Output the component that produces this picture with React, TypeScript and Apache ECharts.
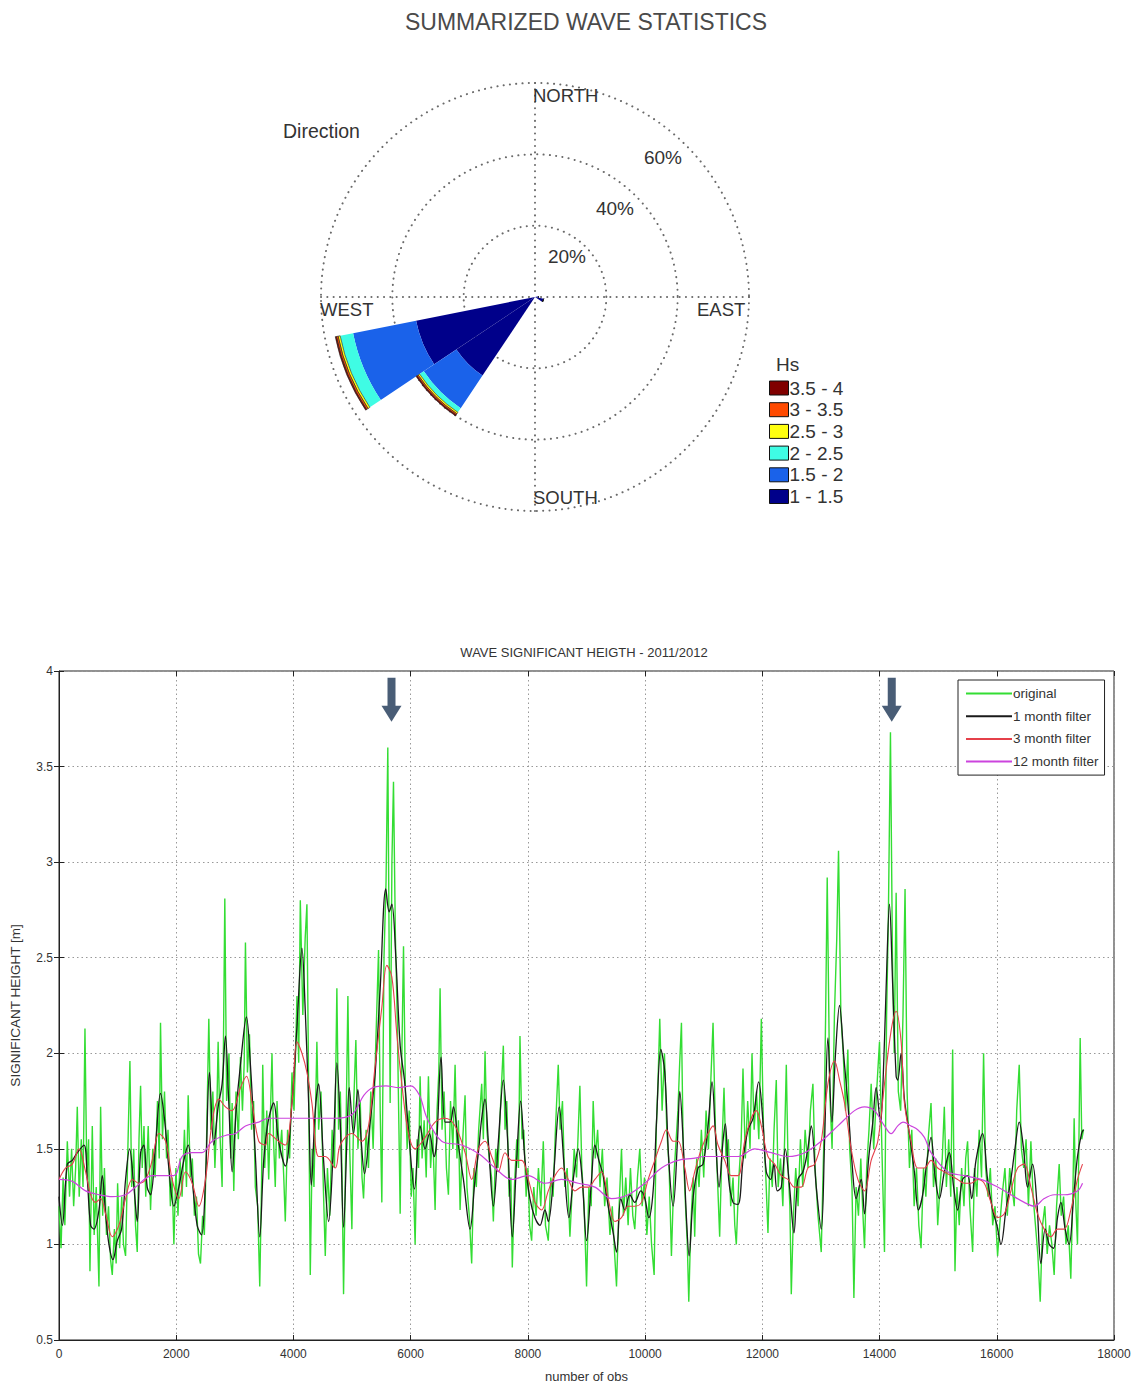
import React, { useEffect, useRef } from "react";
import * as echarts from "echarts";

// ---------- Wind/wave rose data (percent of observations) ----------
const DIRECTIONS = ["N", "NNE", "NE", "ENE", "E", "ESE", "SE", "SSE", "S", "SSW", "SW", "WSW", "W", "WNW", "NW", "NNW"];
const HS_BINS = ["1 - 1.5", "1.5 - 2", "2 - 2.5", "2.5 - 3", "3 - 3.5", "3.5 - 4"];
const HS_1_15 = [0, 0, 0, 0, 1, 2.5, 0, 0, 0, 0, 26.5, 34, 0, 0, 0, 0];
const HS_15_2 = [0, 0, 0, 0, 0, 0, 0, 0, 0, 0, 11, 18, 0, 0, 0, 0];
const HS_2_25 = [0, 0, 0, 0, 0, 0, 0, 0, 0, 0, 1.4, 3.7, 0, 0, 0, 0];
const HS_25_3 = [0, 0, 0, 0, 0, 0, 0, 0, 0, 0, 0.5, 0.6, 0, 0, 0, 0];
const HS_3_35 = [0, 0, 0, 0, 0, 0, 0, 0, 0, 0, 0.4, 0.5, 0, 0, 0, 0];
const HS_35_4 = [0, 0, 0, 0, 0, 0, 0, 0, 0, 0, 0.3, 0.3, 0, 0, 0, 0];
const HS_VALUES = [HS_1_15, HS_15_2, HS_2_25, HS_25_3, HS_3_35, HS_35_4];
const HS_COLORS = ["#00008a", "#1a62ea", "#3ffce4", "#ffff10", "#ff4a00", "#800000"];
const RADIUS_TICKS = ["20%", "40%", "60%"];

// ---------- Time series data: [observation number, Hs (m)] ----------
const ORIGINAL = [
  [0, 1.2], [35, 0.98], [70, 1.35], [100, 1.1], [142, 1.54], [180, 1.25], [215, 1.5], [250, 1.2], [284, 1.4], [312, 1.72], [345, 1.25], [380, 1.55], [410, 1.3], [443, 2.13], [475, 1.35], [505, 1.55], [528, 0.86], [568, 1.62], [600, 1.05], [635, 1.3], [682, 0.78], [710, 1.72], [745, 1.15], [775, 1.4], [810, 1.05], [845, 1.2], [880, 0.92], [909, 0.84], [945, 1.08], [975, 0.9], [1000, 1.32], [1035, 0.98], [1070, 1.25], [1100, 1.0], [1136, 0.94], [1175, 1.5], [1210, 1.96], [1240, 1.3], [1275, 1.5], [1305, 1.1], [1335, 0.96], [1365, 1.55], [1392, 1.83], [1420, 1.4], [1450, 1.62], [1480, 1.25], [1522, 1.62], [1562, 1.18], [1600, 1.5], [1640, 1.35], [1680, 1.75], [1710, 1.45], [1732, 2.16], [1765, 1.55], [1800, 1.8], [1835, 1.45], [1860, 1.6], [1900, 1.2], [1930, 1.35], [1960, 1.0], [1995, 1.4], [2030, 1.15], [2065, 1.45], [2100, 1.25], [2140, 1.6], [2175, 1.3], [2204, 1.78], [2240, 1.35], [2275, 1.45], [2310, 1.15], [2345, 1.25], [2380, 0.95], [2414, 0.9], [2450, 1.15], [2480, 1.05], [2515, 1.5], [2556, 2.18], [2590, 1.6], [2625, 1.8], [2660, 1.4], [2690, 1.65], [2715, 2.06], [2750, 1.55], [2783, 1.3], [2829, 2.81], [2860, 1.75], [2900, 2.0], [2930, 1.45], [2954, 1.74], [2982, 1.28], [3020, 1.8], [3060, 1.55], [3096, 1.98], [3130, 1.7], [3160, 1.95], [3181, 2.58], [3215, 1.9], [3250, 2.1], [3285, 1.6], [3320, 1.75], [3350, 1.3], [3390, 1.2], [3425, 0.78], [3455, 1.3], [3476, 1.94], [3510, 1.4], [3545, 1.7], [3578, 1.34],
  [3634, 2.0], [3660, 1.55], [3690, 1.3], [3720, 1.75], [3760, 1.45], [3800, 1.6], [3835, 1.35], [3861, 1.12], [3900, 1.6], [3935, 1.45], [3975, 1.9], [4010, 1.7], [4060, 2.3], [4090, 1.95], [4117, 2.8], [4160, 2.2], [4200, 2.6], [4230, 2.78], [4260, 1.8], [4287, 0.84], [4320, 1.5], [4350, 1.3], [4400, 2.06], [4430, 1.6], [4470, 1.8], [4510, 1.3], [4543, 0.94], [4580, 1.4], [4620, 1.15], [4660, 1.6], [4700, 1.4], [4741, 2.34], [4770, 1.6], [4800, 1.8], [4830, 1.35], [4855, 0.74], [4890, 1.45], [4929, 2.3], [4960, 1.5], [4997, 1.08], [5030, 1.75], [5065, 2.07], [5100, 1.5], [5140, 1.75], [5170, 1.35], [5196, 1.24], [5240, 1.6], [5280, 1.4], [5320, 1.8], [5360, 1.5], [5400, 2.0], [5452, 2.54], [5480, 1.7], [5508, 1.22], [5545, 2.5], [5580, 2.9], [5610, 3.6], [5650, 1.74], [5680, 3.0], [5707, 3.42], [5740, 2.6], [5770, 2.2], [5800, 1.6], [5821, 1.16], [5850, 2.0], [5878, 2.56], [5910, 1.8], [5940, 1.5], [5975, 1.7], [6010, 1.25], [6040, 1.4], [6076, 1.0], [6110, 1.55], [6135, 1.4], [6161, 1.88], [6195, 1.45], [6230, 1.65], [6265, 1.35], [6303, 1.88], [6340, 1.4], [6375, 1.6], [6417, 1.18], [6450, 1.7], [6480, 1.9], [6502, 2.34], [6535, 1.6], [6570, 1.8], [6610, 1.4], [6644, 1.26], [6680, 1.75], [6720, 1.5], [6758, 1.94], [6790, 1.45], [6815, 1.65], [6843, 1.18], [6880, 1.5], [6928, 1.78], [6960, 1.3], [7000, 1.15], [7041, 0.9], [7080, 1.4], [7120, 1.3], [7160, 1.6], [7212, 1.84],
  [7240, 1.55], [7269, 2.01], [7300, 1.6], [7340, 1.45], [7380, 1.35], [7411, 1.12], [7450, 1.5], [7490, 1.4], [7530, 1.7], [7581, 2.04], [7610, 1.6], [7640, 1.75], [7680, 1.25], [7710, 1.35], [7734, 0.88], [7770, 1.3], [7810, 1.55], [7840, 1.4], [7865, 2.09], [7900, 1.55], [7930, 1.6], [7970, 1.25], [8000, 1.4], [8030, 1.1], [8064, 1.02], [8100, 1.3], [8140, 1.15], [8180, 1.4], [8220, 1.2], [8263, 1.54], [8300, 1.1], [8348, 1.02], [8390, 1.35], [8430, 1.25], [8470, 1.6], [8518, 1.94], [8550, 1.6], [8590, 1.75], [8630, 1.3], [8670, 1.4], [8717, 1.04], [8750, 1.25], [8790, 1.5], [8830, 1.35], [8887, 1.83], [8920, 1.4], [8960, 1.2], [9001, 0.78], [9040, 1.3], [9080, 1.2], [9114, 1.75], [9150, 1.45], [9190, 1.6], [9230, 1.3], [9270, 1.5], [9310, 1.2], [9350, 1.35], [9400, 1.05], [9440, 1.2], [9480, 0.95], [9512, 0.78], [9550, 1.15], [9597, 1.5], [9630, 1.15], [9670, 1.35], [9710, 1.1], [9750, 1.4], [9790, 1.15], [9824, 1.08], [9870, 1.35], [9909, 1.5], [9950, 1.2], [9990, 1.35], [10030, 1.05], [10070, 1.25], [10110, 1.0], [10154, 0.84], [10190, 1.6], [10220, 1.85], [10250, 2.18], [10290, 1.7], [10330, 2.0], [10370, 1.6], [10410, 1.4], [10449, 0.94], [10490, 1.35], [10530, 1.55], [10560, 1.7], [10590, 1.95], [10620, 2.16], [10650, 1.5], [10690, 1.2], [10720, 1.0], [10745, 0.7], [10780, 1.1],
  [10820, 1.35], [10846, 1.04], [10880, 1.45], [10920, 1.3], [10960, 1.6], [11000, 1.35], [11040, 1.7], [11080, 1.5], [11120, 1.85], [11159, 2.16], [11200, 1.6], [11240, 1.3], [11272, 1.04], [11310, 1.5], [11346, 1.82], [11380, 1.45], [11420, 1.55], [11460, 1.2], [11500, 1.35], [11530, 1.1], [11556, 1.0], [11600, 1.35], [11640, 1.55], [11670, 1.92], [11710, 1.45], [11750, 1.75], [11790, 1.5], [11824, 2.0], [11860, 1.6], [11900, 1.8], [11940, 1.55], [11983, 2.18], [12020, 1.6], [12060, 1.35], [12096, 1.06], [12130, 1.45], [12170, 1.3], [12200, 1.6], [12238, 1.86], [12270, 1.3], [12310, 1.45], [12350, 1.2], [12380, 1.55], [12409, 1.94], [12440, 1.4], [12470, 1.2], [12494, 0.74], [12530, 1.15], [12570, 1.4], [12610, 1.2], [12650, 1.55], [12690, 1.3], [12730, 1.6], [12780, 1.4], [12820, 1.7], [12863, 1.84], [12900, 1.4], [12950, 1.15], [13005, 0.96], [13050, 1.55], [13080, 2.2], [13107, 2.92], [13150, 1.8], [13190, 1.5], [13230, 2.2], [13270, 2.6], [13300, 3.06], [13340, 2.2], [13380, 2.0], [13420, 1.7], [13459, 2.02], [13490, 1.5], [13530, 1.3], [13562, 0.72], [13600, 1.3], [13640, 1.15], [13680, 1.45], [13710, 1.2], [13743, 0.98], [13780, 1.4], [13820, 1.6], [13857, 1.84], [13900, 1.5], [13950, 1.8], [13999, 2.06], [14040, 1.5], [14084, 0.96], [14120, 2.2], [14150, 2.7], [14186, 3.68], [14220, 2.5], [14250, 2.0], [14283, 2.84], [14320, 1.8], [14360, 1.7], [14400, 2.2],
  [14435, 2.86], [14470, 1.8], [14510, 1.4], [14550, 1.6], [14590, 1.2], [14630, 1.4], [14670, 1.1], [14708, 0.98], [14750, 1.4], [14790, 1.25], [14830, 1.55], [14878, 1.74], [14920, 1.3], [14960, 1.45], [14992, 1.1], [15030, 1.3], [15070, 1.45], [15105, 1.72], [15140, 1.3], [15180, 1.55], [15215, 1.25], [15247, 2.02], [15287, 0.86], [15320, 1.3], [15360, 1.1], [15400, 1.4], [15440, 1.2], [15470, 1.45], [15502, 1.54], [15540, 1.2], [15588, 0.96], [15620, 1.4], [15660, 1.25], [15700, 1.6], [15740, 1.35], [15775, 2.0], [15810, 1.4], [15850, 1.25], [15890, 1.4], [15930, 1.1], [15970, 1.2], [16014, 0.94], [16050, 1.1], [16090, 1.25], [16139, 1.4], [16180, 1.15], [16220, 1.4], [16260, 1.3], [16298, 1.2], [16340, 1.7], [16383, 1.94], [16420, 1.5], [16460, 1.4], [16500, 1.55], [16540, 1.2], [16582, 1.54], [16620, 1.25], [16660, 1.1], [16700, 0.95], [16741, 0.7], [16780, 1.1], [16820, 1.2], [16860, 0.95], [16900, 1.1], [16940, 1.0], [16979, 0.84], [17020, 1.2], [17065, 1.42], [17100, 1.15], [17140, 1.25], [17180, 1.0], [17220, 1.1], [17263, 0.82], [17300, 1.3], [17320, 1.66], [17350, 1.2], [17377, 1.0], [17400, 1.5], [17423, 2.08], [17450, 1.55], [17480, 1.6],
];

const FILTER_1M = [
  [0, 1.25], [57, 1.1], [142, 1.42], [227, 1.44], [312, 1.48], [426, 1.52], [483, 1.34], [540, 1.1], [596, 1.08], [682, 1.18], [738, 1.36], [795, 1.16], [852, 1.0], [920, 0.92], [994, 1.02], [1068, 1.08], [1136, 1.34], [1204, 1.5], [1278, 1.3], [1335, 1.12], [1392, 1.48], [1448, 1.52], [1505, 1.3], [1562, 1.26], [1647, 1.52], [1732, 1.79], [1806, 1.64], [1874, 1.4], [1960, 1.2], [2045, 1.3], [2130, 1.44], [2204, 1.52], [2272, 1.34], [2357, 1.1], [2431, 1.05], [2499, 1.34], [2567, 1.9], [2641, 1.52], [2715, 1.72], [2783, 1.84], [2840, 2.09], [2897, 1.74], [2954, 1.38], [3022, 1.7], [3096, 1.94], [3198, 2.19], [3266, 1.94], [3351, 1.46], [3425, 1.04], [3493, 1.44], [3567, 1.64],
  [3662, 1.74], [3747, 1.54], [3861, 1.41], [3975, 1.74], [4060, 2.14], [4145, 2.55], [4202, 2.22], [4259, 1.74], [4304, 1.31], [4372, 1.7], [4429, 1.84], [4514, 1.44], [4600, 1.12], [4685, 1.54], [4741, 1.95], [4798, 1.64], [4855, 1.09], [4912, 1.54], [4952, 1.82], [5025, 1.58], [5099, 1.81], [5156, 1.54], [5213, 1.37], [5309, 1.64], [5395, 1.9], [5480, 2.34], [5576, 2.86], [5633, 2.74], [5679, 2.78], [5747, 2.5], [5821, 2.04], [5894, 1.86], [5963, 1.6], [6065, 1.29], [6161, 1.62], [6247, 1.5], [6320, 1.58], [6400, 1.46], [6445, 1.54], [6519, 1.98], [6587, 1.64], [6672, 1.64], [6729, 1.72], [6814, 1.52], [6900, 1.34], [7013, 1.08], [7098, 1.34],
  [7155, 1.48], [7212, 1.66], [7269, 1.76], [7325, 1.54], [7411, 1.2], [7496, 1.54], [7581, 1.86], [7655, 1.54], [7734, 1.04], [7808, 1.44], [7876, 1.75], [7950, 1.44], [8035, 1.24], [8121, 1.14], [8206, 1.1], [8291, 1.18], [8348, 1.12], [8433, 1.34], [8535, 1.72], [8620, 1.4], [8700, 1.14], [8774, 1.34], [8859, 1.5], [8927, 1.34], [9001, 1.02], [9086, 1.34], [9143, 1.52], [9211, 1.44], [9285, 1.36], [9370, 1.2], [9455, 1.06], [9512, 0.96], [9586, 1.24], [9654, 1.18], [9739, 1.26], [9824, 1.22], [9926, 1.28], [9995, 1.24], [10063, 1.14], [10137, 1.28], [10194, 1.64], [10268, 2.02], [10336, 1.9], [10404, 1.44], [10478, 1.2], [10552, 1.54], [10592, 1.8], [10649, 1.54], [10705, 1.14], [10751, 0.94],
  [10818, 1.24], [10903, 1.4], [10988, 1.42], [11074, 1.62], [11142, 1.85], [11199, 1.58], [11261, 1.3], [11329, 1.54], [11369, 1.63], [11426, 1.34], [11500, 1.22], [11585, 1.21], [11670, 1.44], [11755, 1.6], [11841, 1.66], [11937, 1.85], [12011, 1.64], [12068, 1.38], [12142, 1.34], [12198, 1.42], [12255, 1.28], [12323, 1.3], [12391, 1.5], [12465, 1.3], [12539, 1.06], [12607, 1.34], [12692, 1.38], [12766, 1.48], [12835, 1.62], [12920, 1.3], [13005, 1.08], [13062, 1.54], [13119, 2.08], [13187, 1.64], [13249, 2.0], [13317, 2.25], [13391, 1.98], [13459, 1.74], [13527, 1.44], [13601, 1.24], [13686, 1.34], [13743, 1.16], [13811, 1.44], [13885, 1.64], [13942, 1.82], [14016, 1.64], [14056, 1.82], [14112, 2.34], [14169, 2.78], [14226, 2.34], [14283, 1.88],
  [14310, 1.86], [14367, 2.0], [14424, 1.76], [14509, 1.58], [14594, 1.38], [14663, 1.18], [14736, 1.26], [14810, 1.44], [14878, 1.56], [14946, 1.36], [15020, 1.24], [15105, 1.38], [15190, 1.48], [15264, 1.3], [15332, 1.18], [15417, 1.34], [15502, 1.36], [15571, 1.24], [15645, 1.44], [15758, 1.58], [15843, 1.34], [15929, 1.18], [16003, 1.1], [16071, 1.0], [16156, 1.18], [16241, 1.34], [16310, 1.5], [16383, 1.64], [16457, 1.5], [16525, 1.3], [16610, 1.42], [16684, 1.22], [16753, 0.9], [16826, 1.08], [16895, 1.0], [16968, 0.98], [17036, 1.14], [17093, 1.22], [17167, 1.08], [17235, 1.0], [17309, 1.24], [17377, 1.46], [17446, 1.58], [17480, 1.6],
];

const FILTER_3M = [
  [0, 1.34], [114, 1.4], [227, 1.42], [341, 1.5], [454, 1.38], [540, 1.26], [625, 1.22], [710, 1.24], [795, 1.16], [909, 1.04], [1022, 1.1], [1136, 1.24], [1250, 1.34], [1363, 1.32], [1477, 1.34], [1590, 1.44], [1704, 1.58], [1818, 1.54], [1931, 1.34], [2045, 1.24], [2158, 1.38], [2272, 1.32], [2386, 1.2], [2499, 1.34], [2613, 1.64], [2726, 1.76], [2840, 1.72], [2954, 1.7], [3096, 1.82], [3198, 1.88], [3294, 1.74], [3408, 1.54], [3522, 1.52],
  [3577, 1.58], [3747, 1.54], [3861, 1.52], [3975, 1.74], [4060, 2.06], [4145, 2.0], [4230, 1.9], [4315, 1.74], [4429, 1.46], [4543, 1.46], [4713, 1.4], [4798, 1.52], [4997, 1.58], [5167, 1.54], [5281, 1.62], [5395, 1.94], [5508, 2.24], [5593, 2.46], [5679, 2.4], [5764, 2.1], [5849, 1.84], [5963, 1.58], [6076, 1.5], [6247, 1.56], [6417, 1.64], [6587, 1.66], [6758, 1.62], [6928, 1.48], [7041, 1.34], [7155, 1.5],
  [7269, 1.54], [7382, 1.46], [7496, 1.38], [7610, 1.48], [7723, 1.44], [7893, 1.44], [8007, 1.34], [8121, 1.22], [8234, 1.18], [8348, 1.28], [8462, 1.36], [8575, 1.4], [8689, 1.34], [8802, 1.28], [8916, 1.3], [9030, 1.3], [9143, 1.34], [9257, 1.38], [9370, 1.24], [9484, 1.12], [9597, 1.14], [9711, 1.2], [9824, 1.2], [9938, 1.22], [10052, 1.34], [10165, 1.44], [10279, 1.54], [10364, 1.6], [10478, 1.54], [10563, 1.54], [10677, 1.4], [10760, 1.28],
  [10846, 1.38], [10960, 1.5], [11074, 1.58], [11159, 1.62], [11244, 1.52], [11358, 1.44], [11471, 1.36], [11585, 1.36], [11699, 1.54], [11812, 1.66], [11897, 1.7], [11983, 1.62], [12096, 1.46], [12210, 1.42], [12323, 1.36], [12437, 1.34], [12550, 1.3], [12664, 1.3], [12778, 1.4], [12891, 1.42], [13005, 1.54], [13119, 1.84], [13232, 1.96], [13317, 1.86], [13402, 1.74], [13516, 1.5], [13630, 1.34], [13743, 1.28], [13857, 1.44], [13970, 1.54], [14084, 1.84], [14198, 2.12], [14283, 2.22], [14368, 2.06],
  [14424, 1.74], [14537, 1.54], [14651, 1.4], [14765, 1.4], [14878, 1.44], [14992, 1.4], [15105, 1.38], [15219, 1.36], [15332, 1.34], [15446, 1.32], [15559, 1.32], [15673, 1.34], [15786, 1.32], [15900, 1.22], [16014, 1.14], [16128, 1.16], [16241, 1.28], [16355, 1.4], [16469, 1.42], [16582, 1.3], [16696, 1.16], [16809, 1.08], [16923, 1.04], [17036, 1.08], [17150, 1.08], [17263, 1.18], [17377, 1.34], [17463, 1.42],
];

const FILTER_12M = [
  [0, 1.34], [227, 1.33], [454, 1.28], [682, 1.26], [909, 1.25], [1136, 1.26], [1306, 1.3], [1590, 1.36], [1960, 1.36], [2100, 1.46], [2272, 1.48], [2440, 1.48], [2613, 1.54], [2840, 1.57], [3010, 1.58], [3181, 1.62], [3408, 1.64], [3577, 1.66], [3800, 1.66], [4100, 1.66], [4400, 1.66], [4700, 1.66], [5000, 1.68], [5200, 1.78], [5350, 1.82], [5577, 1.83], [5800, 1.82], [6000, 1.83], [6150, 1.78], [6280, 1.66], [6530, 1.54], [6870, 1.52], [7180, 1.47], [7440, 1.4], [7723, 1.34], [8007, 1.36], [8291, 1.32], [8575, 1.34], [8859, 1.32], [9143, 1.3], [9427, 1.24], [9711, 1.26], [9995, 1.32], [10279, 1.4], [10563, 1.44], [10819, 1.45], [11017, 1.46], [11300, 1.46], [11585, 1.46], [11870, 1.5], [12153, 1.48], [12437, 1.46], [12721, 1.48], [13005, 1.54], [13289, 1.62], [13573, 1.7], [13743, 1.72], [13913, 1.7], [14084, 1.62], [14198, 1.58], [14311, 1.62], [14400, 1.64], [14537, 1.62], [14651, 1.6], [14765, 1.56], [14878, 1.48], [15162, 1.38], [15446, 1.36], [15730, 1.34], [16014, 1.3], [16241, 1.26], [16469, 1.22], [16639, 1.2], [16809, 1.24], [16980, 1.26], [17150, 1.26], [17377, 1.28], [17463, 1.32],
];

const SERIES_NAMES = ["original", "1 month filter", "3 month filter", "12 month filter"];
const ARROW_POINTS = [[5673, 3.85], [14208, 3.85]];
const X_TICKS = { min: 0, max: 18000, step: 2000 };
const Y_TICKS = { min: 0.5, max: 4, step: 0.5 };

const FONT = "'Liberation Sans', Arial, Helvetica, sans-serif";
const TXT = "#333";

function txt(text: string, x: number, y: number, size: number, align = "left", extra: any = {}) {
  return {
    type: "text",
    x,
    y,
    z: 50,
    silent: true,
    style: { text, fontSize: size, fontFamily: FONT, fill: TXT, align, verticalAlign: "middle", ...extra },
  };
}

export default function App() {
  const ref = useRef<HTMLDivElement>(null);

  useEffect(() => {
    if (!ref.current) return;
    const chart = echarts.init(ref.current, null, { renderer: "svg" });
    const dotted = { color: "#6a6a6a", width: 2, type: [0.1, 6.2], cap: "round" };
    const polarCenter = [535, 297];
    const polarRadius = 214;

    const roseSeries = HS_BINS.map((name, i) => ({
      name,
      type: "bar",
      coordinateSystem: "polar",
      polarIndex: 0,
      stack: "hs",
      barCategoryGap: "0%",
      data: HS_VALUES[i],
      itemStyle: {
        color: HS_COLORS[i],
        borderColor: i >= 3 ? "#222" : HS_COLORS[i],
        borderWidth: i >= 3 ? 0.6 : 0,
      },
      silent: true,
    }));

    const lineColors = ["#33dd33", "#1a1a1a", "#e5404a", "#cc44dd"];
    const lineWidths = [1.4, 1.3, 1.1, 1.2];
    const lineData = [ORIGINAL, FILTER_1M, FILTER_3M, FILTER_12M];
    const lineSeries = SERIES_NAMES.map((name, i) => ({
      name,
      type: "line",
      xAxisIndex: 0,
      yAxisIndex: 0,
      data: lineData[i],
      showSymbol: false,
      symbol: "none",
      smooth: i === 0 ? false : 0.35,
      lineStyle: { color: lineColors[i], width: lineWidths[i] },
      itemStyle: { color: lineColors[i] },
      z: 2 + i,
      silent: true,
    }));

    const option: any = {
      animation: false,
      backgroundColor: "#fff",
      textStyle: { fontFamily: FONT },
      polar: [
        { center: polarCenter, radius: polarRadius },
        { center: polarCenter, radius: polarRadius },
      ],
      angleAxis: [
        {
          polarIndex: 0,
          type: "category",
          data: DIRECTIONS,
          startAngle: 90 + 360 / DIRECTIONS.length / 2,
          clockwise: true,
          axisLine: { show: false },
          axisTick: { show: false },
          axisLabel: { show: false },
          splitLine: { show: false },
        },
        {
          polarIndex: 1,
          type: "value",
          min: 0,
          max: 360,
          interval: 90,
          startAngle: 90,
          clockwise: true,
          axisLine: { show: false },
          axisTick: { show: false },
          axisLabel: { show: false },
          splitLine: { show: true, lineStyle: dotted },
        },
      ],
      radiusAxis: [
        {
          polarIndex: 0,
          type: "value",
          min: 0,
          max: 60,
          axisLine: { show: false },
          axisTick: { show: false },
          axisLabel: { show: false },
          splitLine: { show: false },
        },
        {
          polarIndex: 1,
          type: "value",
          min: 0,
          max: 60,
          interval: 20,
          axisLine: { show: false },
          axisTick: { show: false },
          axisLabel: { show: false },
          splitLine: { show: true, lineStyle: dotted },
        },
      ],
      grid: [
        {
          left: 57,
          top: 671,
          width: 1057,
          height: 670,
          show: true,
          borderColor: "#222",
          borderWidth: 1,
          backgroundColor: "transparent",
        },
      ],
      xAxis: [
        {
          type: "value",
          gridIndex: 0,
          min: X_TICKS.min,
          max: X_TICKS.max,
          interval: X_TICKS.step,
          name: "number of obs",
          nameLocation: "middle",
          nameGap: 30,
          nameTextStyle: { fontSize: 13, color: TXT, fontFamily: FONT },
          axisLine: { show: true, lineStyle: { color: "#222" } },
          axisTick: { show: true, inside: true, length: 5, lineStyle: { color: "#222" } },
          axisLabel: { fontSize: 12, color: TXT, margin: 8, fontFamily: FONT, formatter: (v: number) => String(v) },
          splitLine: { show: true, lineStyle: { color: "#999", type: [1.5, 3], width: 1 } },
        },
        {
          type: "value",
          gridIndex: 0,
          position: "top",
          min: X_TICKS.min,
          max: X_TICKS.max,
          interval: X_TICKS.step,
          axisLine: { show: false },
          axisTick: { show: true, inside: true, length: 5, lineStyle: { color: "#222" } },
          axisLabel: { show: false },
          splitLine: { show: false },
        },
      ],
      yAxis: [
        {
          type: "value",
          gridIndex: 0,
          min: Y_TICKS.min,
          max: Y_TICKS.max,
          interval: Y_TICKS.step,
          name: "SIGNIFICANT HEIGHT [m]",
          nameLocation: "middle",
          nameGap: 37,
          nameTextStyle: { fontSize: 13.5, color: TXT, fontFamily: FONT },
          axisLine: { show: true, lineStyle: { color: "#222" } },
          axisTick: { show: true, inside: true, length: 5, lineStyle: { color: "#222" } },
          axisLabel: { fontSize: 12, color: TXT, margin: 6, fontFamily: FONT },
          splitLine: { show: true, lineStyle: { color: "#999", type: [1.5, 3], width: 1 } },
        },
        {
          type: "value",
          gridIndex: 0,
          position: "right",
          min: Y_TICKS.min,
          max: Y_TICKS.max,
          interval: Y_TICKS.step,
          axisLine: { show: false },
          axisTick: { show: true, inside: true, length: 5, lineStyle: { color: "#222" } },
          axisLabel: { show: false },
          splitLine: { show: false },
        },
      ],
      legend: [
        {
          data: [...HS_BINS].reverse(),
          orient: "vertical",
          left: 769,
          top: 378.5,
          padding: 0,
          itemWidth: 19,
          itemHeight: 14,
          itemGap: 2.7,
          icon: "rect",
          selectedMode: false,
          itemStyle: { borderColor: "#111", borderWidth: 1 },
          textStyle: { fontSize: 19, lineHeight: 19, color: TXT, fontFamily: FONT, padding: [0, 0, 0, -4] },
        },
        {
          data: SERIES_NAMES,
          orient: "vertical",
          left: 958,
          top: 680,
          padding: [6, 6, 6, 8],
          itemWidth: 46,
          itemHeight: 2,
          itemGap: 7.7,
          icon: "rect",
          selectedMode: false,
          backgroundColor: "#fff",
          borderColor: "#222",
          borderWidth: 1,
          borderRadius: 0,
          textStyle: { fontSize: 13.5, lineHeight: 15, color: TXT, fontFamily: FONT, padding: [0, 0, 0, -4] },
        },
      ],
      graphic: [
        txt("SUMMARIZED WAVE STATISTICS", 586, 22, 23, "center", { fill: "#4a4a4a" }),
        txt("Direction", 283, 131, 19.5),
        txt("NORTH", 533, 95, 18.5),
        txt("SOUTH", 533, 497, 18.5),
        txt("WEST", 320, 309, 18.5),
        txt("EAST", 697, 309, 18.5),
        txt(RADIUS_TICKS[0], 567, 256, 19, "center"),
        txt(RADIUS_TICKS[1], 615, 208, 19, "center"),
        txt(RADIUS_TICKS[2], 663, 157, 19, "center"),
        txt("Hs", 776, 364, 19),
        txt("WAVE SIGNIFICANT HEIGTH - 2011/2012", 584, 652, 13, "center"),
      ],
      series: [
        ...roseSeries,
        ...lineSeries,
        {
          name: "arrows",
          type: "scatter",
          xAxisIndex: 0,
          yAxisIndex: 0,
          data: ARROW_POINTS,
          symbol: "path://M6,0 L14,0 L14,28 L20,28 L10,44 L0,28 L6,28 Z",
          symbolSize: [20, 44],
          itemStyle: { color: "#1c3554" },
          z: 10,
          silent: true,
        },
      ],
    };

    chart.setOption(option);
    return () => chart.dispose();
  }, []);

  return (
    <div
      ref={ref}
      style={{ position: "absolute", left: 0, top: 0, width: 1138, height: 1384, background: "#fff" }}
    />
  );
}
